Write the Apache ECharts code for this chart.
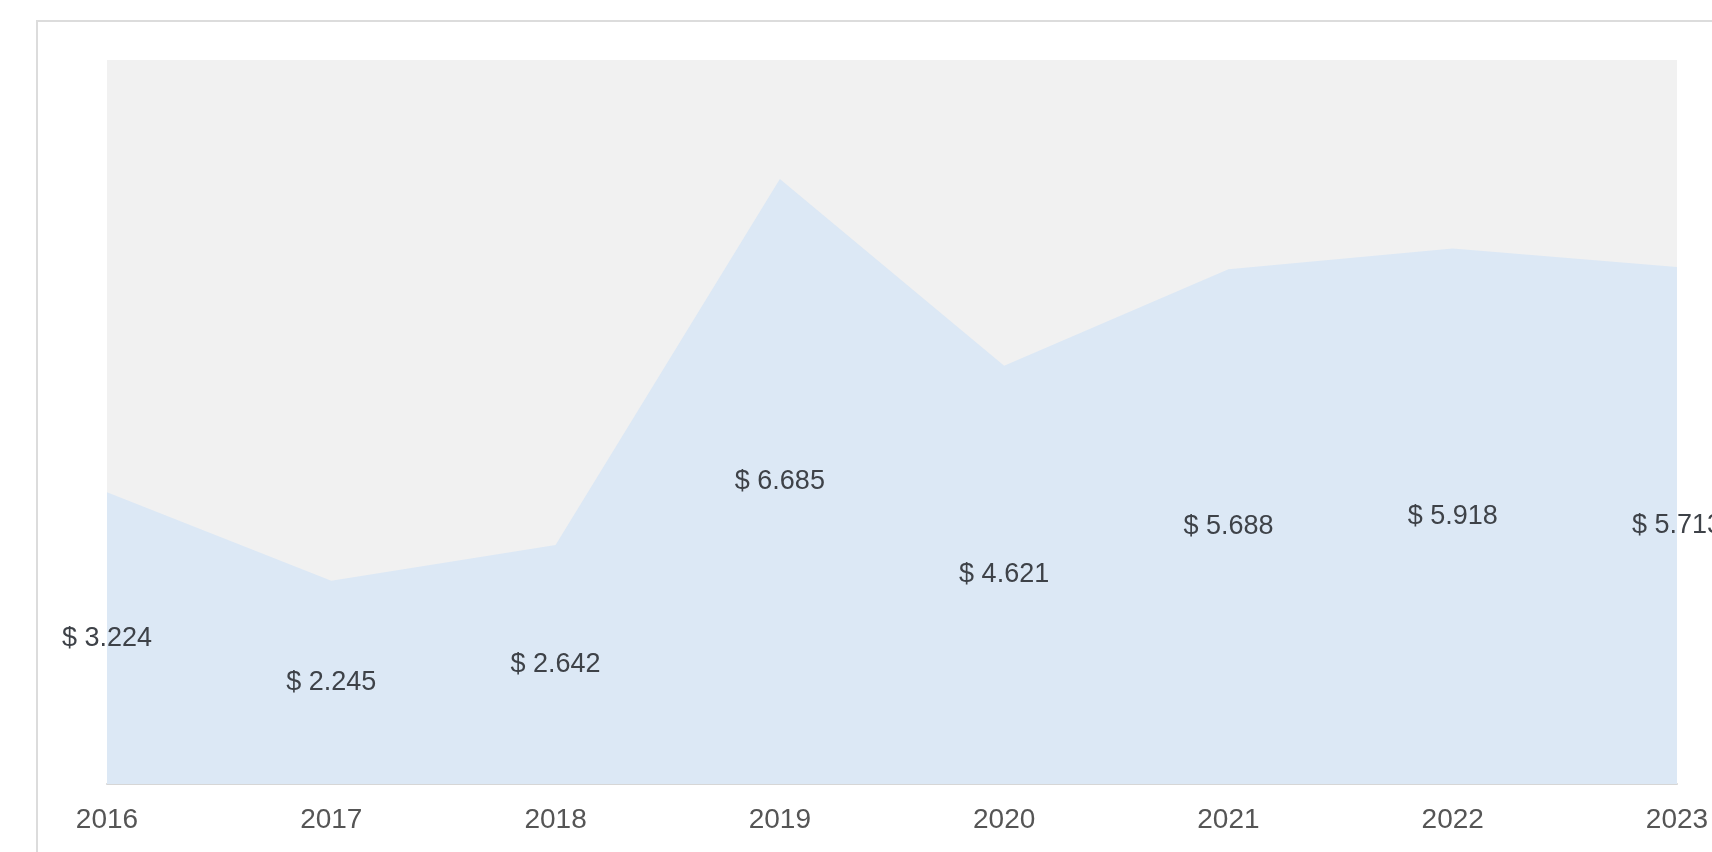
<!DOCTYPE html>
<html>
<head>
<meta charset="utf-8">
<script src="https://cdn.jsdelivr.net/npm/echarts@6/dist/echarts.min.js"></script>
<style>
  html, body { margin: 0; padding: 0; background: #ffffff; overflow: hidden; }
  #card { position: absolute; left: 36px; top: 20px; width: 1800px; height: 900px;
          border: 2px solid #dcdcdc; box-sizing: border-box; background: #ffffff; }
  #chart { position: absolute; left: 0; top: 0; width: 1712px; height: 852px; }
</style>
</head>
<body>
<div id="card"></div>
<div id="chart"></div>
<script>
const years = ['2016', '2017', '2018', '2019', '2020', '2021', '2022', '2023'];
const values = [3.224, 2.245, 2.642, 6.685, 4.621, 5.688, 5.918, 5.713];
const yMax = 8;

const chart = echarts.init(document.getElementById('chart'), null, { renderer: 'canvas' });
chart.setOption({
  animation: false,
  backgroundColor: 'transparent',
  grid: {
    left: 107, right: 35, top: 60, bottom: 68,
    show: true, backgroundColor: '#f1f1f1', borderWidth: 0
  },
  xAxis: {
    type: 'category',
    data: years,
    boundaryGap: false,
    axisLine: { show: true, lineStyle: { color: '#d6d6d6', width: 2 } },
    axisTick: { show: false },
    axisLabel: { color: '#555555', fontSize: 28, fontFamily: 'Liberation Sans, Arial, sans-serif', margin: 22 },
    splitLine: { show: false }
  },
  yAxis: {
    type: 'value',
    min: 0, max: yMax,
    show: false,
    splitLine: { show: false }
  },
  series: [
    {
      type: 'line',
      data: values,
      symbol: 'none',
      lineStyle: { width: 0 },
      areaStyle: { color: '#dce8f5', opacity: 1 },
      z: 2
    },
    {
      type: 'bar',
      data: values,
      clip: false,
      barWidth: 2,
      itemStyle: { color: 'rgba(0,0,0,0)' },
      label: {
        show: true,
        position: 'inside',
        color: '#3e4248',
        fontSize: 27,
        fontFamily: 'Liberation Sans, Arial, sans-serif',
        formatter: p => '$ ' + p.value.toFixed(3)
      },
      z: 3
    }
  ]
});
</script>
</body>
</html>
